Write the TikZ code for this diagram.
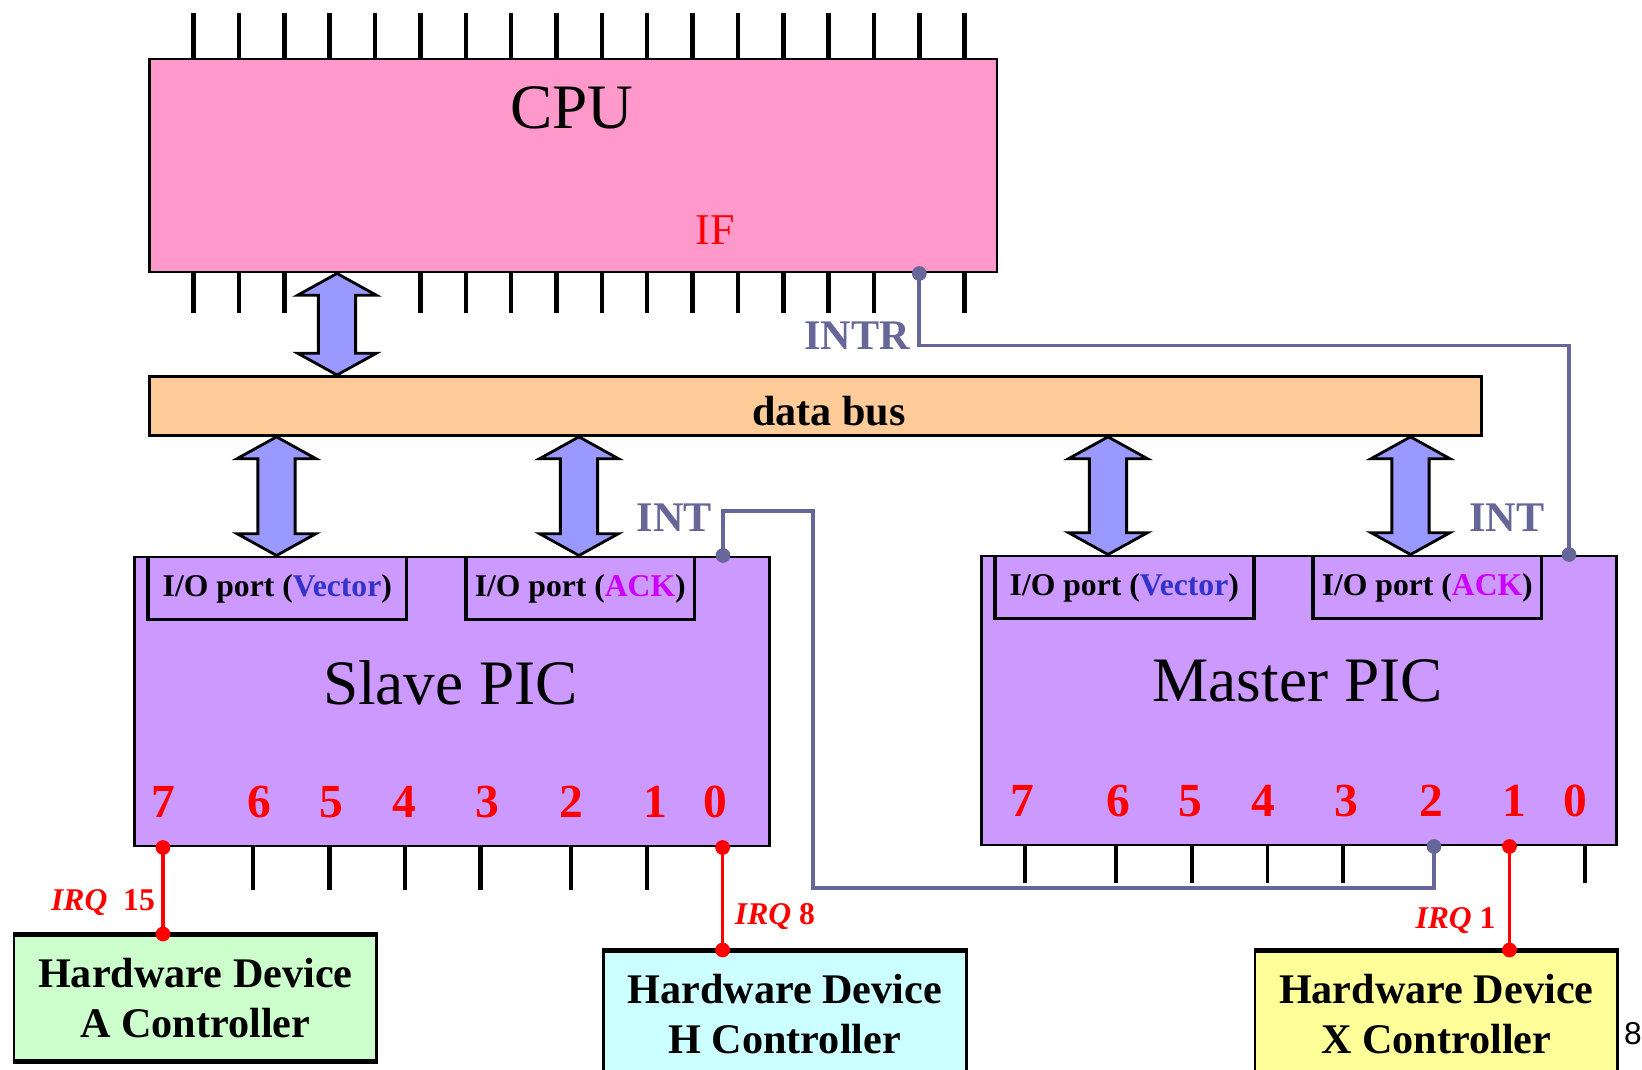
\documentclass[tikz,border=0pt]{standalone}
\usepackage{fontspec}
\setmainfont{Liberation Serif}
\setsansfont{Liberation Sans}
\usetikzlibrary{calc}

\definecolor{cpupink}{HTML}{FF99CC}
\definecolor{busorange}{HTML}{FFCC99}
\definecolor{picviolet}{HTML}{CC99FF}
\definecolor{arrowblue}{HTML}{9999FF}
\definecolor{intgray}{HTML}{666699}
\definecolor{vecblue}{HTML}{3333CC}
\definecolor{ackpink}{HTML}{CC00FF}
\definecolor{devgreen}{HTML}{CCFFCC}
\definecolor{devcyan}{HTML}{CCFFFF}
\definecolor{devyellow}{HTML}{FFFF99}

% double block arrow between two points (top tip, bottom tip)
\newcommand{\busarrow}[2]{%
  \filldraw[bigarrow] let \p1=#1, \p2=#2 in
    (\x1,\y1) -- (\x1+11.2pt,\y1-6.2pt) -- (\x1+5.3pt,\y1-6.2pt)
    -- (\x1+5.3pt,\y2+6.2pt) -- (\x1+11.2pt,\y2+6.2pt) -- (\x1,\y2)
    -- (\x1-11.2pt,\y2+6.2pt) -- (\x1-5.3pt,\y2+6.2pt)
    -- (\x1-5.3pt,\y1-6.2pt) -- (\x1-11.2pt,\y1-6.2pt) -- cycle;}

\begin{document}
\begin{tikzpicture}[x=0.01cm, y=-0.01cm,
  box/.style={draw, line width=0.8pt, inner sep=0pt, anchor=north west},
  port/.style={inner sep=0pt, anchor=north west, minimum width=2.57cm,
    minimum height=0.6cm, font=\fontsize{9}{11}\selectfont\bfseries},
  pin/.style={line width=1.3pt},
  dev/.style={box, align=center, minimum width=3.625cm,
    font=\fontsize{12}{14.2}\selectfont\bfseries},
  bigarrow/.style={fill=arrowblue, draw=black, line width=0.8pt},
  irq/.style={red, line width=1pt},
  irqtxt/.style={red, font=\fontsize{9}{11}\selectfont\bfseries},
  intr/.style={intgray, line width=1.1pt},
  inttxt/.style={intgray, font=\fontsize{12}{14}\selectfont\bfseries},
  num/.style={red, font=\fontsize{13.5}{16}\selectfont\bfseries},
  title/.style={font=\fontsize{18}{21}\selectfont}]
    \useasboundingbox (0,0) rectangle (1642,1069);
    \clip (0,0) rectangle (1642,1069);

    % CPU
    \node[box, fill=cpupink, minimum width=8.47cm, minimum height=2.13cm] (cpu) at (148,57.5) {};
    \node[title] (cpuname) at (572,108) {CPU};
    \node[red, font=\fontsize{12.5}{15}\selectfont] (iflag) at (715,230) {IF};
    \foreach \i in {0,...,17}
        \draw[pin] ({193.7+45.35*\i},12.5) -- ({193.7+45.35*\i},0 |- cpu.north);
    \foreach \i in {0,1,2,5,6,7,8,9,10,11,12,13,14,15,17}
        \draw[pin] ({193.7+45.35*\i},0 |- cpu.south) -- ({193.7+45.35*\i},313);

    % data bus
    \node[box, fill=busorange, minimum width=13.31cm, minimum height=0.59cm] (bus) at (148,375) {};
    \node[font=\fontsize{12}{14}\selectfont\bfseries] (busname) at (829,411) {data bus};
    \busarrow{(337,0 |- cpu.south)}{(337,0 |- bus.north)}

    % the two PICs
    \node[box, fill=picviolet, minimum width=6.35cm, minimum height=2.89cm] (spic) at (133,555.5) {};
    \node[box, fill=picviolet, minimum width=6.35cm, minimum height=2.89cm] (mpic) at (980,554.5) {};
    \node[title] (sname) at (450.5,683) {Slave PIC};
    \node[title] (mname) at (1297.5,681) {Master PIC};

    \node[port] (svec) at (148,558) {I/O port (\textcolor{vecblue}{Vector})};
    \node[port, minimum width=2.27cm] (sack) at (466,558) {I/O port (\textcolor{ackpink}{ACK})};
    \node[port] (mvec) at (995,557) {I/O port (\textcolor{vecblue}{Vector})};
    \node[port, minimum width=2.27cm] (mack) at (1313,557) {I/O port (\textcolor{ackpink}{ACK})};
    \foreach \p in {svec,sack,mvec,mack}
        \draw[line width=1.1pt] (\p.north west) -- (\p.south west) -- (\p.south east) -- (\p.north east);

    \busarrow{(276.5,0 |- bus.south)}{(276.5,0 |- spic.north)}
    \busarrow{(579,0 |- bus.south)}{(579,0 |- spic.north)}
    \busarrow{(1108,0 |- bus.south)}{(1108,0 |- mpic.north)}
    \busarrow{(1410.5,0 |- bus.south)}{(1410.5,0 |- mpic.north)}

    \foreach \x/\n in {163.4/7,259.7/6,331.3/5,404/4,487.4/3,571.6/2,655.4/1,715.5/0}
        \node[num] (s\n) at (\x,802) {\n};
    \foreach \x/\n in {1022/7,1118.8/6,1190.5/5,1263/4,1346.3/3,1431/2,1514.6/1,1575.5/0}
        \node[num] (m\n) at (\x,801) {\n};
    \foreach \x in {253,329.5,405,480.5,571,647}
        \draw[pin] (\x,0 |- spic.south) -- (\x,890);
    \foreach \x in {1025,1116,1192,1267.5,1343,1585}
        \draw[line width=1.1pt] (\x,0 |- mpic.south) -- (\x,883);

    % devices
    \node[dev, fill=devgreen, minimum height=1.245cm] (deva) at (12.6,934) {Hardware Device\\A Controller};
    \node[dev, fill=devcyan, minimum height=1.26cm] (devh) at (602,950) {Hardware Device\\H Controller};
    \node[dev, fill=devyellow, minimum height=1.26cm] (devx) at (1253.5,950) {Hardware Device\\X Controller};
    \foreach \d in {deva,devh,devx}
        \draw[line width=1.3pt] (\d.north west) -- (\d.north east);
    \draw[line width=1.3pt] (deva.south west) -- (deva.south east);

    % interrupt lines
    \coordinate (intrdot) at (919.3,0 |- cpu.south);
    \coordinate (mint) at (1569,0 |- mpic.north);
    \coordinate (sint) at (723,0 |- spic.north);
    \coordinate (m2pin) at (1434,0 |- mpic.south);
    \draw[intr] (intrdot) -- ++(0,72) -| (mint);
    \draw[intr] (sint) -- ++(0,-44.5) -| (812.6,888) -| (m2pin);
    \foreach \c in {intrdot,mint,sint,m2pin}
        \fill[intgray] (\c) circle (2.1pt);
    \node[inttxt] (intrlbl) at (857,335.5) {INTR};
    \node[inttxt] (sintlbl) at (674.5,517.5) {INT};
    \node[inttxt] (mintlbl) at (1507,517.5) {INT};

    % IRQ lines
    \coordinate (s7pin) at (163,0 |- spic.south);
    \coordinate (s0pin) at (722.6,0 |- spic.south);
    \coordinate (m1pin) at (1509.5,0 |- mpic.south);
    \coordinate (airq) at (s7pin |- deva.north);
    \coordinate (hirq) at (s0pin |- devh.north);
    \coordinate (xirq) at (m1pin |- devx.north);
    \draw[irq] (s7pin) -- (airq);
    \draw[irq] (s0pin) -- (hirq);
    \draw[irq] (m1pin) -- (xirq);
    \foreach \c in {s7pin,s0pin,m1pin,airq,hirq,xirq}
        \fill[red] (\c) circle (2.1pt);
    \node[irqtxt] (irqa) at (103,903) {\textit{IRQ}~~15};
    \node[irqtxt] (irqh) at (775,917) {\textit{IRQ} 8};
    \node[irqtxt] (irqx) at (1455.5,921) {\textit{IRQ} 1};

    \node[font=\sffamily\fontsize{9}{11}\selectfont] (pgno) at (1633,1034) {8};
\end{tikzpicture}
\end{document}
